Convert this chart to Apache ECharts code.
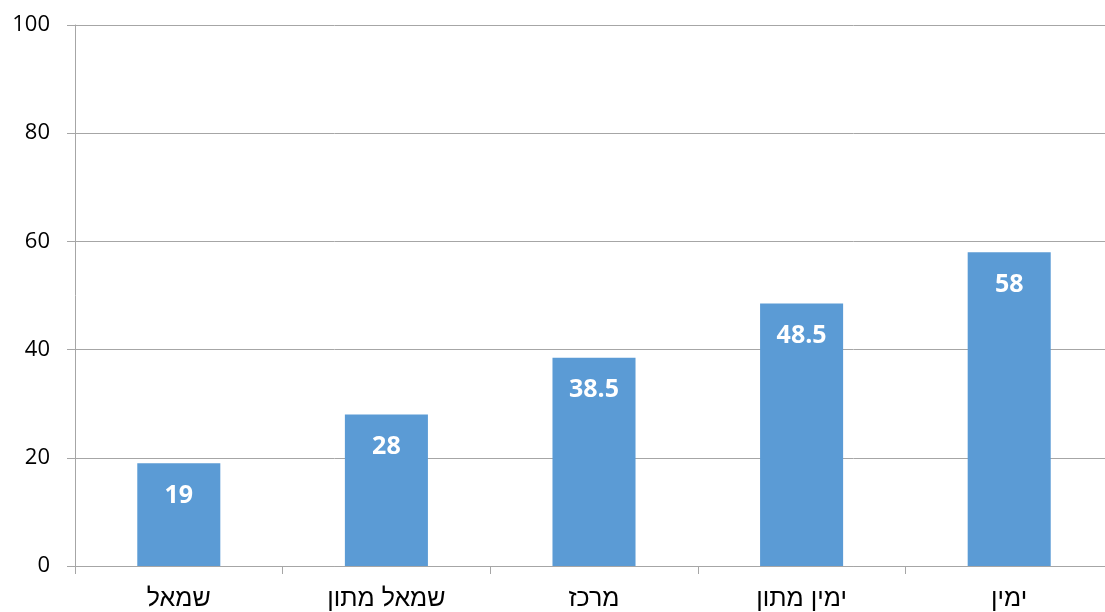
<!DOCTYPE html>
<html><head><meta charset="utf-8">
<script src="https://cdn.jsdelivr.net/npm/echarts@6/dist/echarts.min.js"></script>
<style>html,body{margin:0;padding:0;background:#fff;overflow:hidden;width:1105px;height:612px}#c{width:1113px;height:612px}</style>
</head><body><div id="c"></div>
<script>
var categories = ['שמאל', 'שמאל מתון', 'מרכז', 'ימין מתון', 'ימין'];
var values = [19, 28, 38.5, 48.5, 58];
var yTicks = [0, 20, 40, 60, 80, 100];

var chart = echarts.init(document.getElementById('c'));
chart.setOption({
  animation: false,
  textStyle: { fontFamily: 'Open Sans, DejaVu Sans, sans-serif' },
  grid: { left: 75, right: 0, top: 25, bottom: 45 },
  xAxis: {
    type: 'category',
    data: categories,
    axisLine: { lineStyle: { color: '#a6a6a6', width: 1 } },
    axisTick: { show: true, length: 8, alignWithLabel: false, lineStyle: { color: '#a6a6a6' } },
    axisLabel: { color: '#000', fontSize: 25, margin: 21, fontFamily: 'Liberation Sans, Arial, sans-serif' }
  },
  yAxis: {
    type: 'value',
    min: yTicks[0],
    max: yTicks[yTicks.length - 1],
    interval: 20,
    axisLine: { show: true, lineStyle: { color: '#a6a6a6', width: 1 } },
    axisTick: { show: true, length: 8, inside: false, lineStyle: { color: '#a6a6a6' } },
    splitLine: { lineStyle: { color: '#a6a6a6', width: 1 } },
    axisLabel: { color: '#000', fontSize: 22, margin: 25, fontFamily: 'Open Sans, DejaVu Sans, sans-serif' }
  },
  series: [{
    type: 'bar',
    data: values,
    barWidth: '40%',
    itemStyle: { color: '#5b9bd5' },
    label: {
      show: true,
      position: 'insideTop',
      distance: 20,
      color: '#fff',
      fontWeight: 'bold',
      fontSize: 25,
      fontFamily: 'Open Sans, DejaVu Sans, sans-serif'
    }
  }]
});
</script></body></html>
